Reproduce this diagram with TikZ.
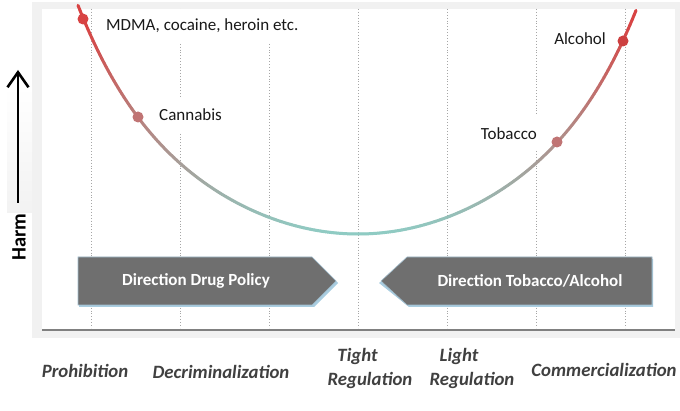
\documentclass[tikz,border=0pt]{standalone}
\usepackage{fontspec}
\setmainfont{Carlito}
\usetikzlibrary{arrows.meta,calc,positioning}
\definecolor{harmred}{HTML}{D84343}
\definecolor{lowteal}{HTML}{8FCBC3}
\definecolor{dotrose}{HTML}{C07474}
\definecolor{panelgray}{HTML}{F1F1F1}
\definecolor{boxgray}{HTML}{6F6F6F}
\definecolor{boxglow}{HTML}{A9CDE0}
\definecolor{labelgray}{HTML}{404040}
\tikzset{>=Latex,
  every node/.style={font=\fontsize{17}{20}\selectfont},
  guide/.style={draw=gray!70,dotted,line width=.9pt},
  curveline/.style={line width=3pt,line cap=round},
  dot/.style={circle,inner sep=0pt,minimum size=11pt},
  tag/.style={fill=white,inner xsep=2pt,minimum height=34pt,text=black!90},
  policy/.style={fill=boxgray,draw=boxglow!80!gray,line width=.6pt},
  policytext/.style={text=white,font=\fontsize{17}{20}\selectfont\bfseries},
  stage/.style={text=labelgray,font=\fontsize{18.8}{24}\selectfont\bfseries\itshape}}
\begin{document}
\begin{tikzpicture}[x=1pt,y=-1pt]
\useasboundingbox (0,0) rectangle (680,411);
% panel
\fill[panelgray] (32,2) rectangle (680,338);
\fill[white] (42,9) rectangle (675,330);
\shade[top color=white,middle color=gray!22,bottom color=gray!10] (7,87) rectangle (32,213);
% harm axis
\coordinate (hbot) at (18,203);\coordinate (htop) at (18,70);
\draw[line width=2.8pt,-{Straight Barb[length=15pt,width=21pt,line width=2.6pt]}] (hbot)--(htop);
\node[rotate=90,font=\fontsize{20.5}{22}\selectfont\bfseries] (harm) at (19,237) {Harm};
% dotted stage lines
\foreach \gx in {91,180,269,358,447,536,625}{\draw[guide] (\gx,9)--(\gx,328);}
% labels
\node[tag,anchor=west] (mdmalbl) at (104,26) {MDMA, cocaine, heroin etc.};
\node[tag,anchor=west] (canlbl) at (157,115) {Cannabis};
\node[tag,anchor=east] (toblbl) at (539,133.5) {Tobacco};
\node[tag,anchor=east,fill=none] (alclbl) at (608,39) {Alcohol};
% harm curve
\foreach \x in {78,80,...,634}{
  \pgfmathsetmacro\ua{abs(\x-358)/100}\pgfmathsetmacro\ub{abs(\x+2-358)/100}
  \pgfmathsetmacro\ya{234-21*\ua^2-8.5*(\ua/2)^6}\pgfmathsetmacro\yb{234-21*\ub^2-8.5*(\ub/2)^6}
  \pgfmathtruncatemacro\mixpct{min(100,max(0,(234-\ya)/2.1))}
  \draw[curveline,harmred!\mixpct!lowteal] (\x,\ya)--(\x+2,\yb);}
\node[dot,fill=harmred] (mdma) at (83,19) {};
\node[dot,fill=dotrose] (cannabis) at (138,117) {};
\node[dot,fill=dotrose] (tobacco) at (557,142) {};
\node[dot,fill=harmred!95!black] (alcohol) at (623,41) {};
% direction arrows
\fill[boxglow] (79,259)--(314,259)--(338,283)--(314,307)--(79,307)--cycle;
\draw[policy] (78,257)--(312,257)--(336,281)--(312,305)--(78,305)--cycle;
\node[policytext] (drugdir) at (196,281) {Direction Drug Policy};
\fill[boxglow] (653,259)--(409,259)--(379,283)--(409,307)--(653,307)--cycle;
\draw[policy] (652,257)--(407,257)--(381,281)--(407,305)--(652,305)--cycle;
\node[policytext] (tobdir) at (530,281) {Direction Tobacco/Alcohol};
% axis
\draw[gray,line width=1.5pt] (42,330)--(675,330);
% stages
\node[stage] (prohib) at (85,371) {Prohibition};
\node[stage] (decrim) at (221,372) {Decriminalization};
\node[stage,align=center] (tight) at (370,368) {Tight\hspace*{25pt}\\Regulation};
\node[stage,align=center] (light) at (472,368) {Light\hspace*{26pt}\\Regulation};
\node[stage] (commerc) at (604,370) {Commercialization};
\end{tikzpicture}
\end{document}
